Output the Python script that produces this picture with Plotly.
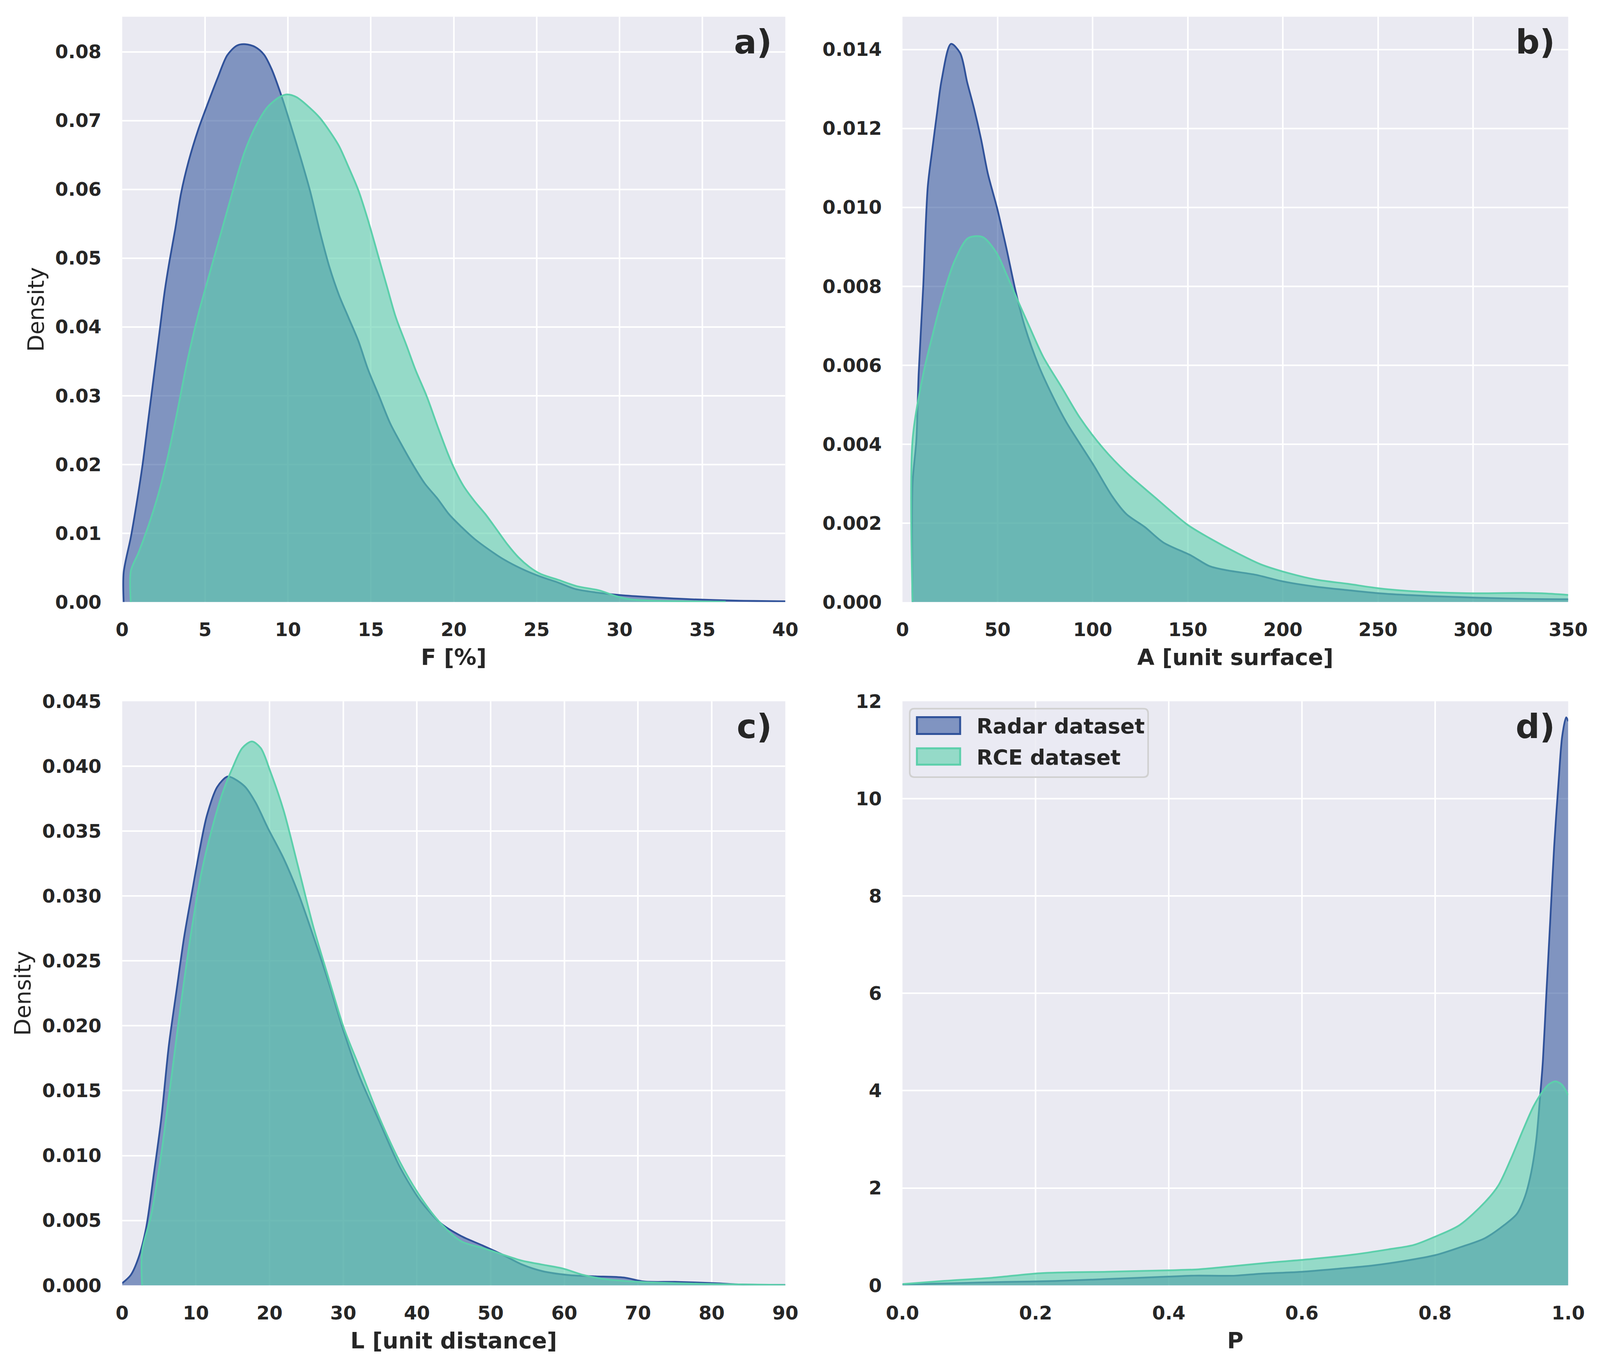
import plotly.graph_objects as go

# ---------------- data ----------------
# Panel a) F [%]
a_radar_x = [0.09, 0.09, 0.52, 0.87, 1.22, 1.57, 1.92, 2.27, 2.56, 2.85, 3.2, 3.55, 4.01, 4.59,
             5.06, 5.76, 6.34, 6.92, 7.44, 8.02, 8.55, 9.01, 9.59, 10.17, 10.76, 11.34, 11.92,
             12.5, 13.08, 13.66, 14.24, 14.83, 15.5, 16.16, 16.82, 17.6, 18.26, 19.03, 19.7,
             20.47, 21.24, 22.13, 23.01, 24.12, 25.22, 26.33, 27.32, 28.54, 30.08, 31.94, 34.3,
             37.0, 40.0]
a_radar_y = [0.0, 0.0043, 0.0094, 0.0143, 0.0198, 0.0264, 0.0330, 0.0396, 0.0451, 0.0495,
             0.0542, 0.0594, 0.0641, 0.0687, 0.0718, 0.0762, 0.0795, 0.0809, 0.0811, 0.0807,
             0.0796, 0.0775, 0.0737, 0.0693, 0.0646, 0.0597, 0.0539, 0.0487, 0.0446, 0.0413,
             0.0380, 0.0338, 0.0299, 0.0260, 0.0230, 0.0197, 0.0172, 0.0150, 0.0128, 0.0109,
             0.0092, 0.0076, 0.0062, 0.0048, 0.0037, 0.0028, 0.0019, 0.0014, 0.0010, 0.0007,
             0.0004, 0.0002, 0.0001]
a_rce_x = [0.52, 0.52, 0.99, 1.57, 2.15, 2.73, 3.31, 3.9, 4.59, 5.29, 5.99, 6.69, 7.38, 8.08,
           8.78, 9.48, 9.94, 10.52, 11.34, 11.92, 12.5, 13.08, 13.66, 14.24, 14.83, 15.41,
           15.99, 16.49, 17.15, 17.7, 18.37, 19.03, 19.59, 20.03, 20.58, 21.24, 21.9, 22.57,
           23.23, 23.9, 24.56, 25.22, 26.33, 27.43, 28.76, 29.86, 30.64, 31.94, 34.3, 36.4]
a_rce_y = [0.0, 0.0045, 0.0072, 0.0110, 0.0154, 0.0209, 0.0275, 0.0347, 0.0418, 0.0479,
           0.0539, 0.0599, 0.0654, 0.0693, 0.0720, 0.0734, 0.0738, 0.0734, 0.0718, 0.0704,
           0.0685, 0.0663, 0.0632, 0.0599, 0.0555, 0.0506, 0.0457, 0.0415, 0.0373, 0.0337,
           0.0299, 0.0255, 0.0219, 0.0194, 0.0169, 0.0147, 0.0128, 0.0106, 0.0084, 0.0065,
           0.0051, 0.0041, 0.0032, 0.0023, 0.0017, 0.0008, 0.0004, 0.0002, 0.0001, 0.00005]

# Panel b) A [unit surface]
b_radar_x = [5.3, 5.3, 7.3, 8.5, 10.9, 13.3, 15.8, 18.2, 20.6, 25.5, 30.3, 34.0, 37.6, 41.3, 44.9,
             49.8, 54.6, 59.5, 64.3, 71.6, 78.9, 86.2, 93.4, 100.7, 110.4, 117.7, 127.4, 137.1,
             151.7, 161.4, 171.1, 185.7, 200.2, 217.2, 234.2, 253.6, 277.9, 302.2, 326.5, 350.0]
b_radar_y = [0.0, 0.0030, 0.0041, 0.00577, 0.00798, 0.01052, 0.01151, 0.0124, 0.01323, 0.01414,
             0.01391, 0.01317, 0.01251, 0.01173, 0.01085, 0.00997, 0.00897, 0.00787, 0.00698,
             0.00599, 0.00522, 0.00455, 0.0040, 0.00345, 0.00267, 0.00223, 0.0019, 0.00151,
             0.00118, 0.00091, 0.0008, 0.00069, 0.00052, 0.00039, 0.0003, 0.00021, 0.00015,
             0.00011, 0.00008, 0.00007]
b_rce_x = [5.3, 5.3, 10.9, 15.8, 20.6, 27.4, 34.5, 42.0, 49.3, 54.6, 59.5, 66.7, 74.0, 83.7,
           93.4, 105.6, 117.7, 132.3, 149.8, 161.4, 176.0, 188.1, 200.2, 217.2, 234.2, 250.0,
           265.8, 282.8, 300.2, 326.5, 336.2, 350.0]
b_rce_y = [0.0, 0.0041, 0.00577, 0.00676, 0.00765, 0.00864, 0.00922, 0.00925, 0.00886, 0.00831,
           0.00776, 0.00698, 0.00621, 0.00544, 0.00466, 0.00389, 0.00328, 0.00267, 0.00196,
           0.00162, 0.00124, 0.00096, 0.00077, 0.00057, 0.00046, 0.00035, 0.00028, 0.00024,
           0.00022, 0.00023, 0.00022, 0.00018]

# Panel c) L [unit distance]
c_radar_x = [0.0, 1.17, 2.2, 3.24, 4.28, 5.3, 6.34, 7.4, 8.4, 9.45, 10.5, 11.5, 12.9, 14.3, 15.3,
             16.7, 18.1, 19.8, 21.9, 23.9, 26.0, 28.1, 30.1, 32.2, 35.0, 37.7, 40.5, 43.2, 46.0,
             48.8, 51.5, 54.3, 57.0, 60.5, 63.9, 68.1, 70.8, 75.0, 80.5, 84.0, 90.0]
c_radar_y = [0.00017, 0.0008, 0.0021, 0.0044, 0.0085, 0.0128, 0.0185, 0.0228, 0.0268, 0.0302,
             0.0335, 0.0362, 0.0384, 0.0392, 0.0390, 0.0384, 0.0372, 0.0352, 0.0329, 0.0302,
             0.0268, 0.0232, 0.0195, 0.0161, 0.0125, 0.0091, 0.0065, 0.0048, 0.0038, 0.0031,
             0.0024, 0.0016, 0.0011, 0.0008, 0.0007, 0.0006, 0.0003, 0.00027, 0.00017, 0.00007,
             0.00003]
c_rce_x = [2.7, 2.7, 3.93, 5.3, 6.7, 8.1, 9.45, 10.8, 12.2, 13.6, 15.0, 16.3, 17.6, 18.8, 20.1,
           21.9, 23.9, 26.0, 28.1, 30.1, 32.2, 35.0, 37.7, 40.5, 43.2, 46.0, 48.8, 51.5, 54.3,
           57.0, 59.8, 62.6, 65.3, 70.1, 75.0, 80.5, 90.0]
c_rce_y = [0.0, 0.0026, 0.0054, 0.0101, 0.0161, 0.0222, 0.0275, 0.0319, 0.0352, 0.0379, 0.0399,
           0.0414, 0.0419, 0.0414, 0.0396, 0.0366, 0.0322, 0.0275, 0.0235, 0.0198, 0.0168,
           0.0128, 0.0095, 0.0068, 0.0048, 0.0034, 0.0029, 0.0024, 0.0019, 0.0016, 0.0013,
           0.0008, 0.0005, 0.00027, 0.00017, 0.0001, 0.00003]

# Panel d) P
d_radar_x = [0.0, 0.077, 0.154, 0.23, 0.307, 0.4, 0.438, 0.5, 0.538, 0.6, 0.653, 0.707, 0.753,
             0.8, 0.837, 0.875, 0.904, 0.923, 0.935, 0.944, 0.952, 0.958, 0.962, 0.967, 0.973,
             0.979, 0.986, 0.991, 0.997, 1.0]
d_radar_y = [0.02, 0.045, 0.07, 0.09, 0.13, 0.18, 0.2, 0.2, 0.24, 0.28, 0.34, 0.41, 0.5, 0.62,
             0.78, 0.97, 1.24, 1.47, 1.82, 2.29, 2.98, 3.91, 4.61, 5.93, 7.48, 9.03, 10.43,
             11.28, 11.67, 11.59]
d_rce_x = [0.0, 0.061, 0.138, 0.207, 0.307, 0.4, 0.445, 0.5, 0.553, 0.614, 0.676, 0.73, 0.768,
           0.8, 0.837, 0.875, 0.895, 0.914, 0.933, 0.948, 0.962, 0.971, 0.981, 0.99, 1.0]
d_rce_y = [0.027, 0.09, 0.16, 0.25, 0.28, 0.31, 0.33, 0.4, 0.47, 0.54, 0.63, 0.74, 0.83, 1.0,
           1.24, 1.71, 2.05, 2.6, 3.22, 3.68, 3.99, 4.13, 4.19, 4.13, 3.91]

series_names = ["Radar dataset", "RCE dataset"]
panel_labels = ["a)", "b)", "c)", "d)"]
x_titles = ["F [%]", "A [unit surface]", "L [unit distance]", "P"]

# ---------------- styling ----------------
FONT = "DejaVu Sans"
TXT = "#262626"
BG = "#EAEAF2"
RADAR_LINE = "#30529a"
RADAR_FILL = "rgba(48,82,154,0.57)"
RCE_LINE = "#5ccfab"
RCE_FILL = "rgba(92,207,171,0.60)"
LINE_COLORS = [RADAR_LINE, RCE_LINE]
FILL_COLORS = [RADAR_FILL, RCE_FILL]

fig = go.Figure()

panels = [
    (a_radar_x, a_radar_y, a_rce_x, a_rce_y),
    (b_radar_x, b_radar_y, b_rce_x, b_rce_y),
    (c_radar_x, c_radar_y, c_rce_x, c_rce_y),
    (d_radar_x, d_radar_y, d_rce_x, d_rce_y),
]

for i, (rx, ry, gx, gy) in enumerate(panels):
    xa = "x" if i == 0 else f"x{i+1}"
    ya = "y" if i == 0 else f"y{i+1}"
    for k, (xs, ys) in enumerate([(rx, ry), (gx, gy)]):
        fig.add_trace(go.Scatter(x=xs, y=ys, xaxis=xa, yaxis=ya, mode="lines",
                                 line=dict(color=LINE_COLORS[k], width=4.5, shape="spline",
                                           smoothing=0.85),
                                 fill="tozeroy", fillcolor=FILL_COLORS[k],
                                 name=series_names[k], showlegend=False, hoverinfo="skip"))

xdom = [[0.0747, 0.4908], [0.5643, 0.9820], [0.0747, 0.4908], [0.5643, 0.9820]]
ydom = [[0.5589, 0.9900], [0.5589, 0.9900], [0.0556, 0.4858], [0.0556, 0.4858]]
xranges = [[0, 40], [0, 350], [0, 90], [0, 1.0]]
yranges = [[0, 0.0851], [0, 0.01483], [0, 0.045], [0, 12]]
xdt = [5, 50, 10, 0.2]
ydt = [0.01, 0.002, 0.005, 2]
xfmt = ["d", "d", "d", ".1f"]
yfmt = [".2f", ".3f", ".3f", "d"]

tickfont = dict(family=FONT, size=48, color=TXT, weight="bold")

for i in range(4):
    xk = "xaxis" if i == 0 else f"xaxis{i+1}"
    yk = "yaxis" if i == 0 else f"yaxis{i+1}"
    ya_name = "y" if i == 0 else f"y{i+1}"
    xa_name = "x" if i == 0 else f"x{i+1}"
    fig.layout[xk] = dict(
        domain=xdom[i], anchor=ya_name, range=xranges[i], dtick=xdt[i], tick0=0,
        tickformat=xfmt[i], showgrid=True, gridcolor="white", gridwidth=4,
        zeroline=False, showline=False, ticks="", tickfont=tickfont,
        ticklabelstandoff=38,
        title=dict(text=x_titles[i], font=dict(family=FONT, size=57, color=TXT, weight="bold"),
                   standoff=24),
        automargin=False,
    )
    ytitle = dict(text="Density", font=dict(family=FONT, size=57, color=TXT), standoff=10) \
        if i in (0, 2) else dict(text="")
    fig.layout[yk] = dict(
        domain=ydom[i], anchor=xa_name, range=yranges[i], dtick=ydt[i], tick0=0,
        tickformat=yfmt[i], showgrid=True, gridcolor="white", gridwidth=4,
        zeroline=False, showline=False, ticks="", tickfont=tickfont,
        ticklabelstandoff=52, title=ytitle, automargin=False,
    )
    fig.add_annotation(text=panel_labels[i], xref=f"{xa_name} domain", yref=f"{ya_name} domain",
                       x=1, y=1, xanchor="right", yanchor="top", xshift=-32, yshift=-12,
                       showarrow=False,
                       font=dict(family=FONT, size=86, color=TXT, weight="bold"))

# ---------------- legend (drawn in panel d, upper left) ----------------
W, H = 4205.0, 3491.0
lx0, lx1 = 2392 / W, 3021 / W
ly1, ly0 = 1 - 1814 / H, 1 - 1990 / H
rx, ry = 12 / W, 12 / H
box_path = (f"M {lx0+rx},{ly1} L {lx1-rx},{ly1} Q {lx1},{ly1} {lx1},{ly1-ry} "
            f"L {lx1},{ly0+ry} Q {lx1},{ly0} {lx1-rx},{ly0} L {lx0+rx},{ly0} "
            f"Q {lx0},{ly0} {lx0},{ly0+ry} L {lx0},{ly1-ry} Q {lx0},{ly1} {lx0+rx},{ly1} Z")
fig.add_shape(type="path", path=box_path, xref="paper", yref="paper",
              fillcolor="rgba(234,234,242,0.8)", line=dict(color="#d0d0d0", width=4))
sw_rows = [(1836, 1879), (1916, 1958)]
for k, (t, b) in enumerate(sw_rows):
    fig.add_shape(type="rect", xref="paper", yref="paper",
                  x0=2411 / W, x1=2525 / W, y0=1 - b / H, y1=1 - t / H,
                  fillcolor=FILL_COLORS[k], line=dict(color=LINE_COLORS[k], width=5))
    fig.add_annotation(text=series_names[k], xref="paper", yref="paper",
                       x=2566 / W, y=1 - ((t + b) / 2 + 2) / H, xanchor="left", yanchor="middle",
                       showarrow=False,
                       font=dict(family=FONT, size=54, color=TXT, weight="bold"))

fig.update_layout(
    autosize=True,
    margin=dict(l=0, r=0, t=0, b=0),
    paper_bgcolor="white", plot_bgcolor=BG,
    font=dict(family=FONT, color=TXT),
    showlegend=False,
)

fig.write_html("out.html", default_width="calc(100vw - 16px)",
               default_height="calc(100vh - 16px)")
